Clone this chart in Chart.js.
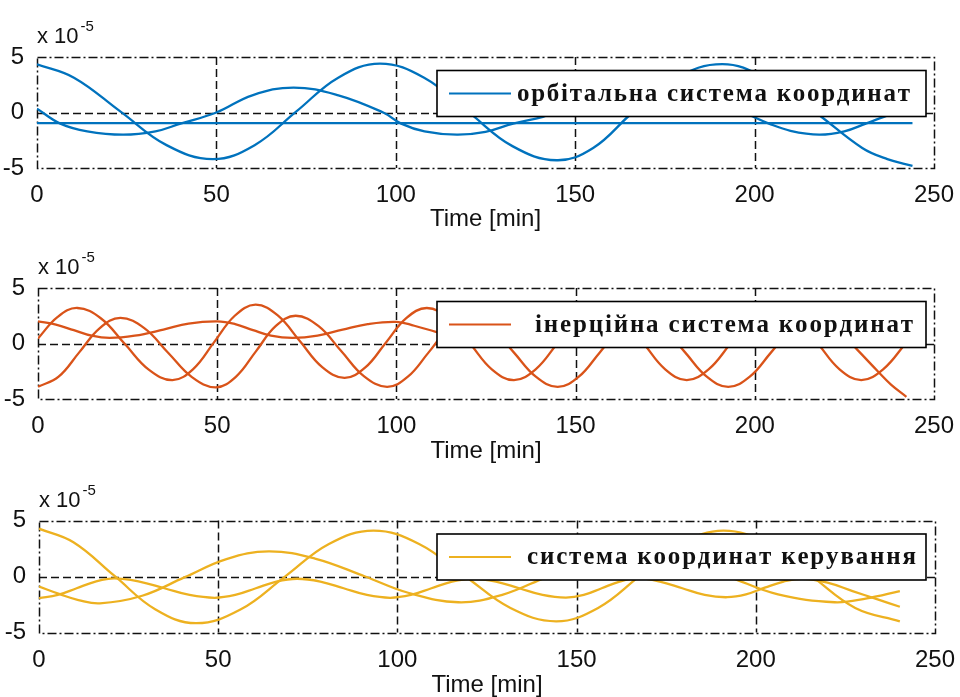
<!DOCTYPE html>
<html>
<head>
<meta charset="utf-8">
<script src="https://cdn.jsdelivr.net/npm/chart.js@4.4.1/dist/chart.umd.min.js"></script>
<style>
  html, body { margin: 0; padding: 0; background: #fff; overflow: hidden; }
  #wrap { position: relative; width: 960px; height: 697px; overflow: hidden; background: #fff; }
  .pane { position: absolute; left: 0; width: 960px; }
</style>
</head>
<body>
<div id="wrap">
  <div class="pane" style="top:0px;height:234px"><canvas id="c1" width="960" height="234"></canvas></div>
  <div class="pane" style="top:232px;height:234px"><canvas id="c2" width="960" height="234"></canvas></div>
  <div class="pane" style="top:464px;height:236px"><canvas id="c3" width="960" height="236"></canvas></div>
</div>
<script>
// ---------------- data (time in min, value in units of 1e-5) ----------------
const xTickValues = [0, 50, 100, 150, 200, 250];
const yTickValues = [-5, 0, 5];
const gridX = [50, 100, 150, 200];
const gridY = [0];
const axisTitle = 'Time [min]';
const scaleNote = ['x 10', '-5'];

const legendOrbital = 'орбітальна система координат';
const legendInertial = 'інерційна система координат';
const legendControl = 'система координат керування';

// orbital frame (blue)
const orbA = [[0,4.35],[10.3,3.14],[23.2,0.1],[36.1,-2.94],[49,-4.2],[60.65,-2.94],[72.3,0.1],[83.95,3.14],[95.6,4.4],[107.9,3.13],[120.2,0.05],[132.5,-3.03],[144.8,-4.3],[155,-3.2],[166,0.0],[178,3.1],[191,4.35],[203,3.1],[217,0.0],[230,-3.2],[237,-4.2],[244,-4.8]];
const orbB = [[0,0.35],[6.5,-1.0],[14,-1.7],[24,-2.0],[33,-1.7],[40,-1.0],[50,0.0],[60,1.55],[71.5,2.25],[84,1.55],[96.5,0.0],[101.5,-1.0],[108,-1.7],[117,-2.0],[125,-1.75],[132.7,-1.0],[141,-0.4],[144,0.0],[156,1.55],[168,2.15],[182,1.4],[196.7,0.0],[204,-1.0],[210,-1.65],[218,-2.0],[225,-1.7],[231,-1.0],[236,-0.4],[244,0.6]];
const orbC = [[0,-0.95],[244,-0.95]];

// inertial frame (orange)
const inerQ = [[0,-3.9],[5.75,-2.99],[11.5,-0.8],[17.25,1.39],[23,2.3],[29.65,1.38],[36.3,-0.83],[42.95,-3.03],[49.6,-3.95],[55.2,-3.0],[60.75,-0.73],[66.3,1.56],[71.9,2.5],[78.3,1.56],[84.65,-0.7],[91,-2.96],[97.4,-3.9],[103.2,-2.99],[109,-0.8],[114.7,1.39],[120.5,2.3],[126.6,1.39],[132.75,-0.8],[138.9,-2.99],[145,-3.9],[150.9,-2.99],[156.75,-0.8],[162.6,1.39],[168.5,2.3],[174.5,1.39],[180.55,-0.8],[186.6,-2.99],[192.6,-3.9],[198.6,-2.99],[204.55,-0.8],[210.5,1.39],[216.5,2.3],[222.6,1.39],[228.7,-0.6],[234.3,-2.5],[238,-3.7],[242.3,-4.8]];
const inerP = [[0,0.45],[5.5,2.4],[11,3.2],[17.6,2.25],[24.25,-0.05],[30.9,-2.35],[37.5,-3.3],[43.3,-2.3],[49.1,0.1],[54.9,2.5],[60.7,3.5],[66.9,2.53],[73.1,0.2],[79.3,-2.13],[85.5,-3.1],[91.25,-2.18],[97,0.05],[102.75,2.28],[108.5,3.2],[114.6,2.25],[120.65,-0.05],[126.7,-2.35],[132.8,-3.3],[138.85,-2.33],[144.9,0],[150.95,2.33],[157,3.3],[163,2.33],[169,0],[175,-2.33],[181,-3.3],[187.1,-2.33],[193.25,0],[199.4,2.33],[205.5,3.3],[211.55,2.33],[217.6,0],[223.65,-2.33],[229.7,-3.3],[235.8,-2.33],[242.3,0.1]];
const inerR = [[0,2.0],[5,1.7],[10,1.2],[15,0.7],[20,0.5],[27,0.7],[35,1.25],[42,1.8],[50,2.0],[55,1.75],[60,1.2],[65,0.7],[71,0.5],[78,0.7],[85,1.25],[92,1.75],[100,1.95],[105,1.6],[111,1.05],[116,0.65],[120,0.5],[128,0.75],[135,1.3],[142,1.8],[150,2.0],[155,1.7],[160,1.2],[165,0.7],[170,0.5],[177,0.75],[185,1.3],[192,1.8],[200,2.0],[205,1.7],[210,1.2],[215,0.7],[220,0.5],[227,0.75],[235,1.3],[242.3,1.8]];

// control frame (yellow)
const ctrlY1 = [[0,4.27],[9.6,3.06],[21,0.07],[32.4,-2.92],[43.8,-4.17],[56.2,-2.95],[68.55,-0.03],[80.9,2.9],[93.3,4.1],[106.05,2.91],[118.8,0.05],[131.55,-2.81],[144.3,-4.0],[156,-2.81],[167.65,0.05],[179.3,2.91],[191,4.1],[203.25,2.91],[215.5,0.05],[227.75,-2.81],[240.2,-4.0]];
const ctrlY2 = [[0,-1.93],[5.25,-1.65],[10.5,-1.05],[15.75,-0.45],[21,-0.17],[28,-0.45],[35,-1.05],[42,-1.65],[49,-1.9],[54.75,-1.65],[60.5,-1.05],[66.25,-0.45],[72,-0.2],[78.5,-0.45],[85,-1.05],[91.5,-1.65],[98,-1.9],[103.75,-1.65],[109.5,-1.05],[115.25,-0.45],[121,-0.2],[127.5,-0.45],[134,-1.05],[140.5,-1.65],[147,-1.88],[152,-1.65],[157,-1.05],[162,-0.45],[167,-0.15],[173.25,-0.45],[179.5,-1.05],[185.75,-1.65],[192,-1.85],[197.25,-1.6],[202.5,-1.0],[207.75,-0.45],[213,-0.2],[220,-0.55],[227,-1.3],[234,-2.05],[240.2,-2.7]];
const ctrlY3 = [[0,-0.9],[6,-1.6],[11,-2.1],[17,-2.4],[28.8,-1.72],[40.55,-0.08],[52.3,1.56],[64.1,2.24],[77,1.6],[91,0.0],[103,-1.45],[117,-2.3],[129.25,-1.64],[141.5,-0.05],[153.75,1.54],[166,2.2],[179.4,1.54],[192.8,-0.05],[206.2,-1.6],[222,-2.3],[231,-1.95],[240.2,-1.3]];

const colBlue = '#0072BD';
const colOrange = '#D95319';
const colYellow = '#EDB120';

// ---------------- plugins ----------------
const SANS = '"Liberation Sans", Arial, sans-serif';
const SERIF = '"Liberation Serif", "Times New Roman", serif';

const matGrid = {
  id: 'matGrid',
  beforeDatasetsDraw(chart) {
    const {ctx, chartArea: a, scales} = chart;
    ctx.save();
    ctx.strokeStyle = '#111';
    ctx.lineWidth = 1.5;
    ctx.setLineDash([8, 4]);
    gridX.forEach(v => {
      const px = Math.round(scales.x.getPixelForValue(v)) + 0.5;
      ctx.beginPath(); ctx.moveTo(px, a.top); ctx.lineTo(px, a.bottom); ctx.stroke();
    });
    gridY.forEach(v => {
      const py = Math.round(scales.y.getPixelForValue(v)) + 0.5;
      ctx.beginPath(); ctx.moveTo(a.left, py); ctx.lineTo(a.right, py); ctx.stroke();
    });
    ctx.setLineDash([9, 3, 2, 3]);
    ctx.strokeRect(Math.round(a.left) + 0.5, Math.round(a.top) + 0.5, Math.round(a.width), Math.round(a.height));
    ctx.restore();
  },
  afterDraw(chart) {
    const {ctx, chartArea: a} = chart;
    ctx.save();
    ctx.fillStyle = '#111';
    ctx.textBaseline = 'middle';
    ctx.textAlign = 'left';
    ctx.font = '22px ' + SANS;
    ctx.fillText(scaleNote[0], a.left, a.top - 20);
    const w = ctx.measureText(scaleNote[0]).width;
    ctx.font = '15px ' + SANS;
    ctx.fillText(scaleNote[1], a.left + w + 2, a.top - 30);
    ctx.restore();
  }
};

const boxLegend = {
  id: 'boxLegend',
  afterDatasetsDraw(chart, args, o) {
    const {ctx, chartArea: a} = chart;
    const x0 = 437, x1 = 926;
    const y0 = a.top + 13.5, y1 = y0 + 46;
    ctx.save();
    ctx.fillStyle = '#fff';
    ctx.fillRect(x0, y0, x1 - x0, y1 - y0);
    ctx.strokeStyle = '#000';
    ctx.lineWidth = 1.6;
    ctx.strokeRect(x0, y0, x1 - x0, y1 - y0);
    const cy = (y0 + y1) / 2;
    ctx.strokeStyle = o.color;
    ctx.lineWidth = 2.2;
    ctx.beginPath(); ctx.moveTo(x0 + 12, cy); ctx.lineTo(x0 + 74, cy); ctx.stroke();
    ctx.fillStyle = '#111';
    ctx.font = 'bold 25px ' + SERIF;
    ctx.textBaseline = 'middle';
    ctx.textAlign = 'left';
    const chars = Array.from(o.text);
    const widths = chars.map(c => ctx.measureText(c).width);
    const total = widths.reduce((s, v) => s + v, 0);
    const gap = (o.end - o.start - total) / (chars.length - 1);
    let x = o.start;
    chars.forEach((c, i) => { ctx.fillText(c, x, cy + 1); x += widths[i] + gap; });
    ctx.restore();
  }
};

function toXY(arr) { return arr.map(p => ({x: p[0], y: p[1]})); }

function makeChart(id, series, color, legend, g) {
  const ds = series.map(s => ({
    data: toXY(s), borderColor: color, borderWidth: 2.3, pointRadius: 0,
    tension: 0.4, fill: false
  }));
  return new Chart(document.getElementById(id), {
    type: 'line',
    data: { datasets: ds },
    options: {
      responsive: false, animation: false, events: [],
      layout: { padding: { top: g.T, left: 0, right: 960 - g.R, bottom: 0 } },
      plugins: { legend: { display: false }, tooltip: { enabled: false },
        boxLegend: legend },
      scales: {
        x: {
          type: 'linear', min: 0, max: 250,
          afterBuildTicks: s => { s.ticks = xTickValues.map(v => ({value: v})); },
          afterFit: s => { s.height = g.H - g.T - g.A; },
          grid: { display: false }, border: { display: false },
          ticks: { color: '#111', font: { size: 24, family: SANS }, padding: 5, maxRotation: 0, autoSkip: false },
          title: { display: true, text: axisTitle, color: '#111', font: { size: 24, family: SANS }, padding: { top: 0, bottom: 0 } }
        },
        y: {
          min: -5, max: 5,
          afterBuildTicks: s => { s.ticks = yTickValues.map(v => ({value: v})); },
          afterFit: s => { s.width = g.L; },
          grid: { display: false }, border: { display: false },
          ticks: { color: '#111', font: { size: 24, family: SANS }, padding: 5 }
        }
      }
    },
    plugins: [matGrid, boxLegend]
  });
}

makeChart('c1', [orbC, orbB, orbA], colBlue,
  { text: legendOrbital, color: colBlue, start: 517, end: 910 },
  { H: 234, T: 57, A: 111, L: 37, R: 934 });
makeChart('c2', [inerR, inerQ, inerP], colOrange,
  { text: legendInertial, color: colOrange, start: 535, end: 913 },
  { H: 234, T: 56, A: 111, L: 38, R: 934 });
makeChart('c3', [ctrlY3, ctrlY2, ctrlY1], colYellow,
  { text: legendControl, color: colYellow, start: 527, end: 916 },
  { H: 236, T: 56.5, A: 112, L: 39, R: 935 });
</script>
</body>
</html>
